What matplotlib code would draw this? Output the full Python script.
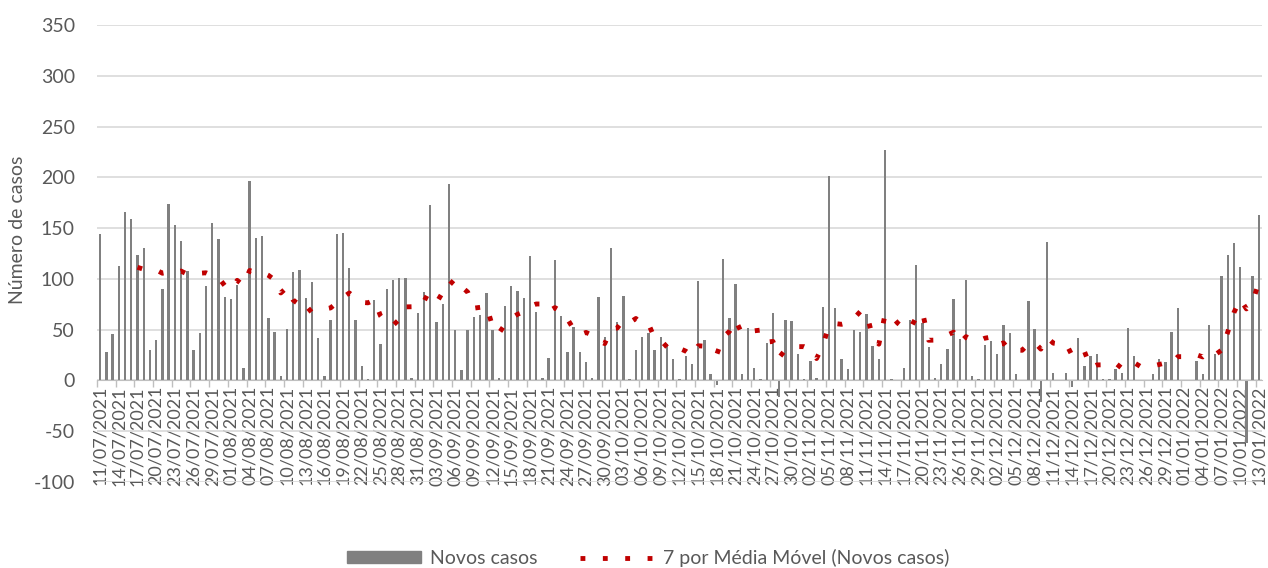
import numpy as np
import pandas as pd
import matplotlib
matplotlib.use('Agg')
import matplotlib.pyplot as plt
from matplotlib.patches import Patch
from matplotlib.lines import Line2D

plt.rcParams['font.family'] = ['Lato', 'DejaVu Sans']
plt.rcParams['axes.unicode_minus'] = False

start_date = '2021-07-11'
novos_casos = [144, 28, 46, 113, 166, 159, 124, 130, 30, 40,
               90, 174, 153, 137, 108, 30, 47, 93, 155, 139,
               82, 80, 94, 12, 196, 140, 142, 61, 48, 4,
               51, 107, 109, 81, 97, 42, 4, 60, 144, 145,
               111, 60, 14, 1, 79, 36, 90, 99, 101, 101,
               2, 66, 87, 173, 58, 75, 193, 50, 10, 50,
               62, 64, 86, 50, 2, 73, 93, 88, 81, 123,
               67, 2, 22, 119, 63, 28, 53, 28, 18, 2,
               82, 43, 130, 58, 83, 1, 30, 43, 47, 30,
               43, 36, 21, 1, 24, 16, 98, 40, 6, -4,
               120, 61, 95, 6, 52, 12, 1, 37, 66, -16,
               60, 59, 26, 1, 19, 2, 72, 201, 71, 21,
               11, 50, 48, 65, 34, 21, 227, 1, 0, 12,
               60, 114, 57, 33, 2, 16, 31, 80, 41, 99,
               4, 1, 35, 39, 26, 55, 47, 6, 0, 78,
               51, -21, 136, 7, 0, 7, -6, 42, 14, 24,
               26, 1, 1, 11, 7, 52, 24, 0, 0, 6,
               21, 18, 48, 71, 0, 0, 19, 6, 55, 26,
               103, 124, 135, 112, -62, 103, 163]

datas = pd.date_range(start_date, periods=len(novos_casos), freq='D')
rotulos = [d.strftime('%d/%m/%Y') for d in datas]
media_movel = pd.Series(novos_casos, dtype=float).rolling(7).mean()

cinza = '#595959'
fig = plt.figure(figsize=(12.68, 5.68), dpi=100)
ax = fig.add_axes([97/1268., 1-482/568., 1165/1268., 457/568.])

for s in ['top', 'right', 'left']:
    ax.spines[s].set_visible(False)
ax.spines['bottom'].set_position(('data', 0))
ax.spines['bottom'].set_color('#BFBFBF')

x = np.arange(len(novos_casos))
ax.bar(x, novos_casos, width=0.38, color='#808080', zorder=2)
ax.plot(x, media_movel, color='#C00000', lw=3.5, ls=(0, (1, 3.6)),
        dash_capstyle='butt', zorder=3)

ax.set_xlim(-0.5, len(novos_casos) - 0.5)
ax.set_ylim(-100, 350)
ax.set_yticks(np.arange(-100, 351, 50))
ax.yaxis.grid(True, color='#D9D9D9', lw=1.2, zorder=0)
ax.set_axisbelow(True)

ax.set_xticks(x[::3])
ax.set_xticklabels(rotulos[::3])
ax.set_xticks(x[::3] - 0.5, minor=True)
ax.tick_params(axis='x', which='major', length=0, pad=4, labelrotation=90,
               labelsize=13, labelcolor=cinza)
ax.tick_params(axis='x', which='minor', length=5, color='#BFBFBF', width=1)
ax.tick_params(axis='y', length=0, labelsize=14, labelcolor=cinza, pad=16)

fig.text(18/1268., 1-230/568., 'Número de casos', rotation=90, fontsize=14,
         color=cinza, ha='center', va='center')

handles = [Patch(color='#808080'),
           Line2D([0], [0], color='#C00000', lw=3.5, ls=(0, (1, 3.6)), dash_capstyle='butt')]
fig.legend(handles, ['Novos casos', '7 por Média Móvel (Novos casos)'],
           loc='center', bbox_to_anchor=(648/1268., 1-558/568.), ncol=2, frameon=False,
           fontsize=14, labelcolor=cinza, handlelength=3.8, handleheight=0.6,
           handletextpad=0.45, columnspacing=2.2)

plt.savefig('out.png', dpi=100)
